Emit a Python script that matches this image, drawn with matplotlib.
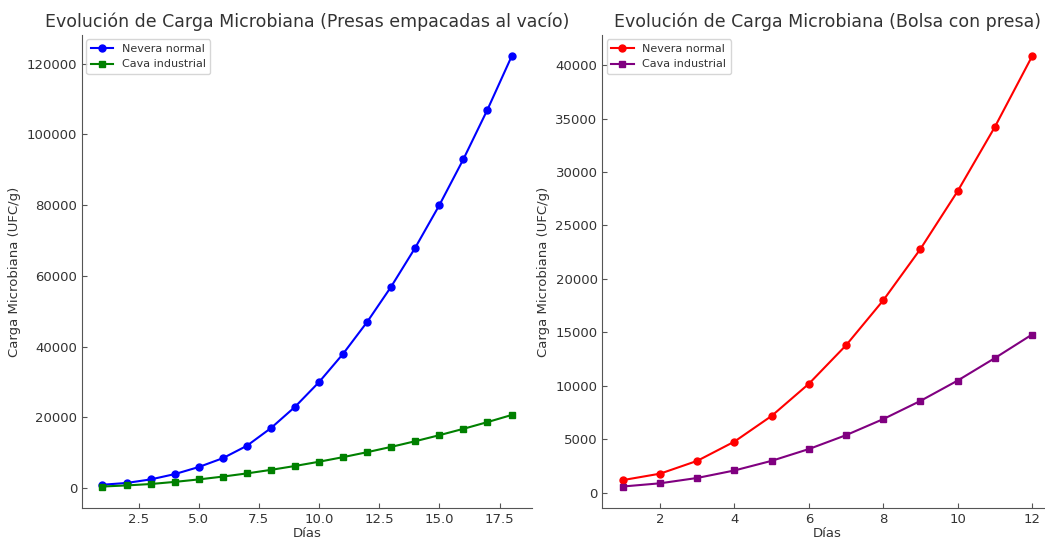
import matplotlib.pyplot as plt

# Datos - presas empacadas al vacío
dias_vacio = list(range(1, 19))
nevera_vacio = [1000, 1500, 2500, 4000, 6000, 8500, 12000, 17000, 23000, 30000,
                38000, 47000, 57000, 68000, 80000, 93000, 107000, 122000]
cava_vacio = [500, 800, 1200, 1800, 2500, 3300, 4200, 5200, 6300, 7500,
              8800, 10200, 11700, 13300, 15000, 16800, 18700, 20700]

# Datos - bolsa con presa
dias_bolsa = list(range(1, 13))
nevera_bolsa = [1200, 1800, 3000, 4800, 7200, 10200, 13800, 18000, 22800, 28200, 34200, 40800]
cava_bolsa = [600, 900, 1400, 2100, 3000, 4100, 5400, 6900, 8600, 10500, 12600, 14800]

plt.rcParams['font.family'] = ['DejaVu Sans']
plt.rcParams['text.color'] = '#333333'
plt.rcParams['axes.labelcolor'] = '#333333'
plt.rcParams['xtick.color'] = '#333333'
plt.rcParams['ytick.color'] = '#333333'

fig = plt.figure(figsize=(10.45, 5.39), dpi=100)
ax1 = fig.add_axes([0.0785, 0.0575, 0.4306, 0.8776])
ax2 = fig.add_axes([0.5765, 0.0575, 0.4306, 0.8776])

ax1.plot(dias_vacio, nevera_vacio, color='blue', marker='o', markersize=5, label='Nevera normal')
ax1.plot(dias_vacio, cava_vacio, color='green', marker='s', markersize=5, label='Cava industrial')
ax1.set_title('Evolución de Carga Microbiana (Presas empacadas al vacío)', fontsize=12.5)
ax1.set_xlabel('Días', fontsize=9.5, labelpad=1)
ax1.set_ylabel('Carga Microbiana (UFC/g)', fontsize=9.5)

ax2.plot(dias_bolsa, nevera_bolsa, color='red', marker='o', markersize=5, label='Nevera normal')
ax2.plot(dias_bolsa, cava_bolsa, color='purple', marker='s', markersize=5, label='Cava industrial')
ax2.set_title('Evolución de Carga Microbiana (Bolsa con presa)', fontsize=12.5)
ax2.set_xlabel('Días', fontsize=9.5, labelpad=1)
ax2.set_ylabel('Carga Microbiana (UFC/g)', fontsize=9.5)

for ax in (ax1, ax2):
    ax.spines['top'].set_visible(False)
    ax.spines['right'].set_visible(False)
    ax.spines['left'].set_color('#555555')
    ax.spines['bottom'].set_color('#555555')
    ax.tick_params(direction='in', labelsize=9.5, color='#555555')
    ax.legend(loc='upper left', fontsize=8, handlelength=2, borderaxespad=0.4)

plt.savefig('out.png')
